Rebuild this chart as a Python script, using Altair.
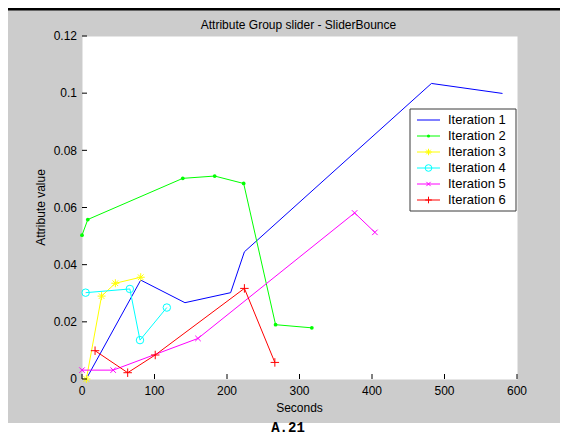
import altair as alt
import pandas as pd

# ---------------- data ----------------
title_text = "Attribute Group slider - SliderBounce"
x_title = "Seconds"
y_title = "Attribute value"
caption = "A.21"

series = ["Iteration 1", "Iteration 2", "Iteration 3",
          "Iteration 4", "Iteration 5", "Iteration 6"]

it1_x = [8, 81, 142, 205, 224, 482, 580]
it1_y = [0.001, 0.0346, 0.0267, 0.0302, 0.0445, 0.1034, 0.0999]

it2_x = [0, 8, 139, 183, 223, 267, 317]
it2_y = [0.0503, 0.0558, 0.0702, 0.0710, 0.0684, 0.0190, 0.0179]

it3_x = [6, 27, 46, 81]
it3_y = [0.0, 0.0290, 0.0335, 0.0356]

it4_x = [5, 66, 80, 117]
it4_y = [0.0302, 0.0315, 0.0136, 0.0250]

it5_x = [0, 43, 160, 376, 404]
it5_y = [0.0031, 0.0031, 0.0142, 0.0581, 0.0513]

it6_x = [18, 63, 101, 224, 266]
it6_y = [0.0099, 0.0022, 0.0084, 0.0317, 0.0058]

x_ticks = [0, 100, 200, 300, 400, 500, 600]
x_tick_labels = ["0", "100", "200", "300", "400", "500", "600"]
y_ticks = [0, 0.02, 0.04, 0.06, 0.08, 0.1, 0.12]
y_tick_labels = ["0", "0.02", "0.04", "0.06", "0.08", "0.1", "0.12"]

# ---------------- styles ----------------
colors = ["#0000ff", "#00ff00", "#ffff00", "#00ffff", "#ff00ff", "#ff0000"]
FONT = "Liberation Sans"
W, H = 435, 343
PAD = {"left": 74, "top": 28, "right": 43, "bottom": 56}
GRAY_BOTTOM = 387          # plot-relative pixel where the grey figure ends
FULL_BOTTOM = H + PAD["bottom"]

STAR = "M-1,0L1,0M0,-1L0,1M-0.7,-0.7L0.7,0.7M-0.7,0.7L0.7,-0.7"
XMARK = "M-1,-1L1,1M-1,1L1,-1"
PLUS = "M-1,0L1,0M0,-1L0,1"
# (series, shape, plot size, legend size, filled)
marker_specs = [
    ("Iteration 2", "circle", 14, 10, True),
    ("Iteration 3", STAR, 64, 42, False),
    ("Iteration 4", "circle", 56, 44, False),
    ("Iteration 5", XMARK, 30, 18, False),
    ("Iteration 6", PLUS, 72, 44, False),
]

# legend geometry (plot-relative pixels)
LEG_X0, LEG_X1, LEG_Y0, LEG_Y1 = 328, 434, 73, 175
LEG_ROW0, LEG_STEP = 84, 16
LEG_LINE0, LEG_LINE1, LEG_TEXT = 335, 358, 366

# ---------------- tables ----------------
xs = [it1_x, it2_x, it3_x, it4_x, it5_x, it6_x]
ys = [it1_y, it2_y, it3_y, it4_y, it5_y, it6_y]
rows = []
for name, xv, yv in zip(series, xs, ys):
    for i, (a, b) in enumerate(zip(xv, yv)):
        rows.append({"series": name, "i": i, "t": a, "v": b})
df = pd.DataFrame(rows)

x_scale = alt.Scale(domain=[0, 600], nice=False, zero=False)
y_scale = alt.Scale(domain=[0, 0.12], nice=False, zero=False)
color_scale = alt.Scale(domain=series, range=colors)

x_axis = alt.Axis(values=x_ticks, labels=False, title=None, ticks=False, grid=False,
                  domainColor="black", domainWidth=1)
y_axis = alt.Axis(values=y_ticks, labels=False, title=None, ticks=False, grid=False,
                  domainColor="black", domainWidth=1)

lines = alt.Chart(df).mark_line(strokeWidth=1).encode(
    x=alt.X("t:Q", scale=x_scale, axis=x_axis),
    y=alt.Y("v:Q", scale=y_scale, axis=y_axis),
    color=alt.Color("series:N", scale=color_scale, legend=None),
    detail="series:N",
    order="i:Q",
)

layers = []
for name, shape, size, lsize, filled in marker_specs:
    layers.append(
        alt.Chart(df).transform_filter(alt.datum.series == name)
        .mark_point(shape=shape, size=size, filled=filled, strokeWidth=1, opacity=1)
        .encode(
            x=alt.X("t:Q", scale=x_scale, axis=None),
            y=alt.Y("v:Q", scale=y_scale, axis=None),
            color=alt.Color("series:N", scale=color_scale, legend=None),
        )
    )

# ---------------- ticks and tick labels (inward ticks, MATLAB style) ----------------
xdf = pd.DataFrame({"t": x_ticks, "lab": x_tick_labels})
ydf = pd.DataFrame({"v": y_ticks, "lab": y_tick_labels})
xt = alt.Chart(xdf).mark_rule(color="black", strokeWidth=1).encode(
    x=alt.X("t:Q", scale=x_scale, axis=None),
    y=alt.value(H), y2=alt.value(H - 5),
)
yt = alt.Chart(ydf).mark_rule(color="black", strokeWidth=1).encode(
    y=alt.Y("v:Q", scale=y_scale, axis=None),
    x=alt.value(0), x2=alt.value(5),
)
xl = alt.Chart(xdf).mark_text(font=FONT, fontSize=12, color="black",
                              align="center", baseline="alphabetic").encode(
    x=alt.X("t:Q", scale=x_scale, axis=None), y=alt.value(H + 15.5), text="lab:N",
)
yl = alt.Chart(ydf).mark_text(font=FONT, fontSize=12, color="black",
                              align="right", baseline="alphabetic", dy=4.3).encode(
    y=alt.Y("v:Q", scale=y_scale, axis=None), x=alt.value(-5), text="lab:N",
)

# ---------------- titles ----------------
titles = pd.DataFrame({"main": [title_text], "xt": [x_title], "yt": [y_title],
                       "caption": [caption]})
main_title = alt.Chart(titles).mark_text(font=FONT, fontSize=12, color="black",
                                         align="center", baseline="alphabetic").encode(
    x=alt.value(216.5), y=alt.value(-7), text="main:N",
)
x_title_mark = alt.Chart(titles).mark_text(font=FONT, fontSize=12, color="black",
                                           align="center", baseline="alphabetic").encode(
    x=alt.value(W / 2), y=alt.value(H + 33), text="xt:N",
)
y_title_mark = alt.Chart(titles).mark_text(font=FONT, fontSize=12, color="black",
                                           align="center", baseline="alphabetic",
                                           angle=270).encode(
    x=alt.value(-37), y=alt.value(H / 2), text="yt:N",
)

# ---------------- legend (drawn as marks) ----------------
legend_layers = [
    alt.Chart(titles).mark_rect(fill="white", stroke="#3a3a3a", strokeWidth=1).encode(
        x=alt.value(LEG_X0), x2=alt.value(LEG_X1),
        y=alt.value(LEG_Y0), y2=alt.value(LEG_Y1),
    )
]
spec_by_name = {m[0]: m for m in marker_specs}
for k, name in enumerate(series):
    row = pd.DataFrame({"series": [name]})
    yk = LEG_ROW0 + LEG_STEP * k
    legend_layers.append(
        alt.Chart(row).mark_rule(strokeWidth=1).encode(
            x=alt.value(LEG_LINE0), x2=alt.value(LEG_LINE1), y=alt.value(yk),
            color=alt.Color("series:N", scale=color_scale, legend=None),
        )
    )
    if name in spec_by_name:
        _, shape, size, lsize, filled = spec_by_name[name]
        legend_layers.append(
            alt.Chart(row).mark_point(shape=shape, size=lsize, filled=filled,
                                      strokeWidth=1, opacity=1).encode(
                x=alt.value((LEG_LINE0 + LEG_LINE1) / 2), y=alt.value(yk),
                color=alt.Color("series:N", scale=color_scale, legend=None),
            )
        )
    legend_layers.append(
        alt.Chart(row).mark_text(font=FONT, fontSize=13, color="black",
                                 align="left", baseline="middle").encode(
            x=alt.value(LEG_TEXT), y=alt.value(yk), text="series:N",
        )
    )

# ---------------- page decoration ----------------
black_bar = alt.Chart(titles).mark_rect(color="black").encode(
    x=alt.value(-PAD["left"]), x2=alt.value(W + PAD["right"]),
    y=alt.value(-PAD["top"]), y2=alt.value(-PAD["top"] + 2.5),
)
white_strip = alt.Chart(titles).mark_rect(color="white").encode(
    x=alt.value(-PAD["left"]), x2=alt.value(W + PAD["right"]),
    y=alt.value(GRAY_BOTTOM), y2=alt.value(FULL_BOTTOM),
)
cap = alt.Chart(titles).mark_text(
    font="Liberation Mono", fontWeight="bold", fontSize=14, color="black",
    align="center", baseline="alphabetic",
).encode(x=alt.value(206), y=alt.value(FULL_BOTTOM - 3), text="caption:N")

chart = alt.layer(
    white_strip, black_bar, lines, *layers, xt, yt, xl, yl,
    main_title, x_title_mark, y_title_mark, *legend_layers, cap
).properties(
    width=W, height=H,
    autosize=alt.AutoSizeParams(type="none"),
    padding=PAD,
    background="#cccccc",
).configure_view(fill="white", stroke="transparent")

chart.save("out.html", embed_options={"renderer": "svg", "actions": False})
